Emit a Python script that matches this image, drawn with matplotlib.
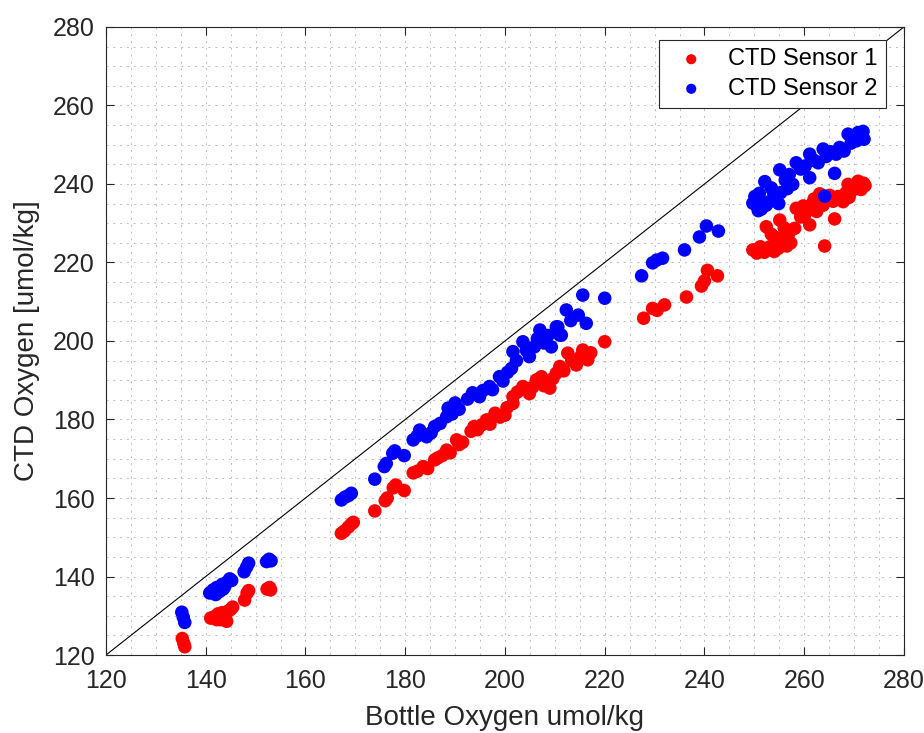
import numpy as np
import matplotlib
matplotlib.use("Agg")
import matplotlib.pyplot as plt
from matplotlib.ticker import MultipleLocator

plt.rcParams['font.family'] = ['Liberation Sans', 'DejaVu Sans']

# sensor 1 (red): bottle oxygen, ctd oxygen
s1_bottle = [135.3, 135.8, 135.6,
             141.0, 141.8, 142.5, 143.0, 143.3, 143.8, 144.2, 144.5, 145.0, 145.4, 144.0, 142.2,
             147.8, 148.3, 148.6, 152.3, 152.8, 153.0,
             167.2, 167.8, 168.6, 169.2, 169.6,
             173.9, 176.0, 176.4, 177.6, 178.1, 179.8,
             181.6, 182.4, 183.6, 184.5, 185.9, 186.5, 187.4, 188.3, 189.0, 190.3, 190.8, 191.5,
             193.2, 193.8, 194.5, 195.3, 196.3, 197.0, 198.0, 199.0, 200.0, 200.4,
             201.6, 201.6, 202.5, 203.6, 204.9, 205.5, 206.3, 207.3, 207.8, 209.0, 209.6, 210.3, 211.0, 211.8,
             212.6, 213.4, 214.3, 215.0, 215.6, 216.6, 217.2, 220.0,
             227.8, 229.6, 230.5, 232.0, 236.4, 239.4, 240.0, 240.6, 242.6,
             249.7, 250.5, 251.2, 252.0, 253.1, 254.0, 254.8, 255.7, 256.5, 257.3,
             252.4, 253.4, 254.2, 255.1, 256.0, 257.0, 258.1, 258.4, 259.3, 260.2,
             261.1, 261.7, 262.5, 263.1, 263.8, 264.1, 265.1, 265.8, 266.1, 266.8,
             267.8, 268.4, 268.8, 269.5, 270.2, 270.8, 271.4, 271.9, 272.2, 269.0, 262.0, 259.8]
s1_ctd = [124.2, 122.1, 123.0,
          129.4, 129.8, 130.5, 129.0, 130.8, 129.6, 128.6, 131.2, 131.6, 132.2, 130.2, 129.0,
          134.0, 135.8, 136.4, 136.8, 137.2, 136.6,
          151.0, 151.6, 152.6, 153.4, 153.8,
          156.7, 159.3, 160.0, 162.6, 163.3, 161.9,
          166.4, 166.8, 168.0, 167.5, 169.7, 170.2, 170.8, 172.2, 171.5, 174.8, 173.6, 174.2,
          177.0, 178.2, 177.4, 178.6, 179.9, 178.8, 181.6, 180.6, 181.1, 183.0,
          184.1, 185.8, 187.0, 188.4, 186.6, 188.2, 190.1, 190.9, 188.6, 188.0, 190.4, 191.8, 193.5, 192.4,
          196.9, 195.0, 193.9, 195.8, 197.7, 195.2, 197.0, 199.8,
          205.8, 208.3, 207.8, 209.2, 211.2, 214.0, 215.3, 218.0, 216.6,
          223.2, 222.4, 224.0, 222.6, 224.0, 222.8, 223.6, 225.7, 224.2, 225.0,
          229.1, 227.2, 226.4, 230.8, 228.8, 227.6, 228.7, 233.8, 231.6, 232.4,
          229.6, 235.1, 233.0, 237.5, 234.6, 224.2, 237.1, 235.6, 231.1, 236.8,
          235.5, 237.8, 239.9, 238.2, 239.2, 240.7, 238.6, 240.2, 239.6, 236.6, 236.2, 234.4]

# sensor 2 (blue)
s2_bottle = [135.2, 135.8, 135.5,
             140.8, 141.5, 142.2, 142.8, 143.3, 143.8, 144.3, 144.8, 142.0, 143.5, 145.2,
             147.7, 148.2, 148.6, 152.2, 152.7, 153.1,
             167.2, 167.9, 168.6, 169.2,
             173.9, 175.8, 176.2, 177.5, 177.9, 179.8,
             181.6, 182.4, 182.9, 184.3, 185.2, 185.9, 187.0, 188.3, 188.6, 189.4, 190.0, 190.8,
             192.5, 193.5, 194.9, 195.6, 196.9, 197.5, 198.9, 199.6, 200.5,
             201.3, 201.6, 202.3, 203.6, 204.3, 204.9, 205.9, 206.5, 207.0, 207.8, 208.6, 209.3,
             210.3, 210.6, 211.0, 211.3, 212.3, 213.2, 214.7, 215.6, 216.3, 220.0,
             227.4, 229.6, 230.4, 231.6, 236.0, 239.0, 240.4, 242.8,
             249.7, 250.1, 250.6, 251.4, 252.4, 253.2, 254.4, 255.3, 252.1, 253.4,
             255.1, 256.2, 257.7, 257.0, 258.4, 259.3, 260.2, 261.1, 261.1, 262.0,
             262.8, 263.8, 264.4, 264.1, 265.3, 266.1, 266.4, 267.1, 268.0, 268.8,
             269.4, 270.5, 270.8, 271.5, 272.0, 271.8,
             250.8, 251.8, 253.8, 251.0, 254.9, 256.6]
s2_ctd = [130.9, 128.3, 129.6,
          135.8, 136.6, 137.2, 136.2, 138.0, 137.4, 138.6, 139.4, 135.4, 136.8, 139.0,
          141.2, 142.4, 143.4, 143.8, 144.4, 144.0,
          159.5, 160.2, 160.6, 161.2,
          164.8, 168.0, 168.8, 171.4, 172.0, 170.8,
          174.8, 175.8, 177.3, 175.6, 176.6, 178.2, 179.0, 180.7, 182.9, 181.4, 184.2, 182.6,
          185.2, 186.8, 185.8, 187.4, 188.4, 187.6, 190.9, 189.8, 192.0,
          193.0, 197.3, 195.0, 199.8, 197.6, 196.0, 198.5, 200.6, 202.8, 199.5, 201.4, 198.5,
          203.6, 203.6, 201.5, 201.5, 207.9, 205.2, 206.6, 211.7, 204.5, 210.9,
          216.6, 219.9, 220.6, 221.1, 223.2, 226.5, 229.3, 228.0,
          235.1, 236.8, 234.2, 233.6, 234.6, 235.6, 236.8, 237.8, 240.6, 239.0,
          243.6, 241.0, 239.9, 242.4, 245.4, 243.8, 244.6, 241.6, 247.6, 246.0,
          245.4, 248.9, 247.0, 236.9, 248.2, 242.7, 247.6, 249.3, 248.4, 252.7,
          250.4, 251.0, 253.1, 252.2, 251.4, 253.4,
          233.2, 235.4, 238.0, 237.6, 235.0, 238.8]

lims = [120, 280]
ticks = [120, 140, 160, 180, 200, 220, 240, 260, 280]

fig = plt.figure(figsize=(9.24, 7.33), dpi=100)
ax = fig.add_axes([0.1147, 0.1064, 0.8636, 0.8568])

ax.scatter(s1_bottle, s1_ctd, s=95, c='#ff0000', edgecolors='none', label='CTD Sensor 1', zorder=3)
ax.scatter(s2_bottle, s2_ctd, s=95, c='#0000ff', edgecolors='none', label='CTD Sensor 2', zorder=3)
ax.plot(lims, lims, color='black', lw=0.8, zorder=2)

ax.set_xlim(lims)
ax.set_ylim(lims)
ax.set_xticks(ticks)
ax.set_yticks(ticks)
ax.xaxis.set_minor_locator(MultipleLocator(5))
ax.yaxis.set_minor_locator(MultipleLocator(5))
ax.grid(which='both', color='#bdbdbd', lw=0.7, dashes=(2, 5), zorder=0)
ax.set_axisbelow(True)

dark = '#262626'
for sp in ax.spines.values():
    sp.set_color(dark)
    sp.set_linewidth(0.8)
ax.tick_params(which='major', direction='in', length=6, width=0.8, color=dark,
               labelcolor=dark, labelsize=18, top=True, right=True)
ax.tick_params(axis='x', which='major', pad=10)
ax.tick_params(axis='y', which='major', pad=8)
ax.tick_params(which='minor', length=0, top=True, right=True)

ax.set_xlabel('Bottle Oxygen umol/kg', fontsize=20, color=dark, labelpad=9)
ax.set_ylabel('CTD Oxygen [umol/kg]', fontsize=20, color=dark, labelpad=9)

leg = ax.legend(loc='upper right', bbox_to_anchor=(0.977, 0.979), borderaxespad=0,
                fontsize=17, markerscale=0.75, fancybox=False, framealpha=1,
                edgecolor=dark, handlelength=2.0, handletextpad=0.55,
                labelspacing=0.32, borderpad=0.35)
leg.get_frame().set_linewidth(0.8)

fig.savefig('out.png', dpi=100)
